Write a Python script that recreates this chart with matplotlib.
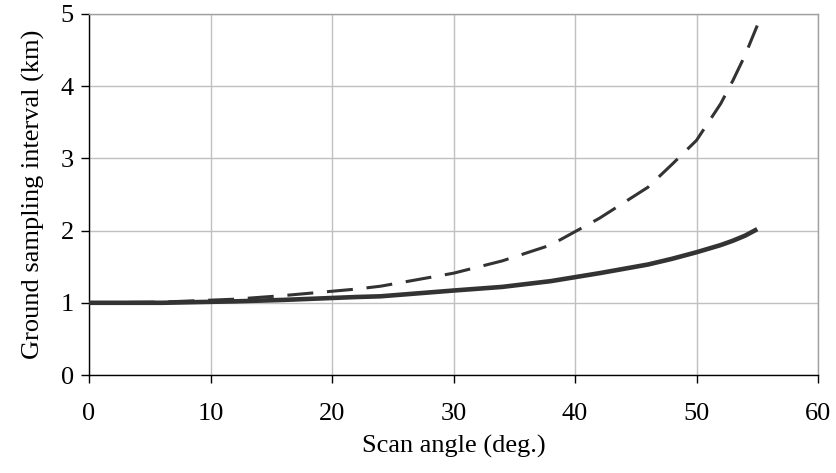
import numpy as np
import matplotlib.pyplot as plt

# du lieu doc tu hinh
scan_deg = [0, 6, 12, 16, 22, 24, 30, 34, 38, 42, 46, 48, 50, 52, 53, 54, 55]
gsi_solid = [1.00, 1.00, 1.02, 1.04, 1.08, 1.09, 1.17, 1.22, 1.30, 1.41, 1.53, 1.61, 1.70, 1.80, 1.86, 1.93, 2.02]
gsi_dash = [1.00, 1.01, 1.05, 1.10, 1.19, 1.23, 1.41, 1.58, 1.80, 2.17, 2.60, 2.92, 3.25, 3.76, 4.08, 4.43, 4.84]

plt.rcParams['font.family'] = ['Liberation Serif', 'DejaVu Serif']

fig = plt.figure(figsize=(8.36, 4.73), dpi=100)
ax = fig.add_axes([89 / 836, 1 - 375 / 473, (818 - 89) / 836, (375 - 14) / 473])

ax.plot(scan_deg, gsi_dash, color='#333333', lw=2.2, dashes=(8.5, 4.5), zorder=3)
ax.plot(scan_deg, gsi_solid, color='#333333', lw=3.3, solid_capstyle='butt', zorder=4)

ax.set_xlim(0, 60)
ax.set_ylim(0, 5)
ax.set_xticks(np.arange(0, 61, 10))
ax.set_yticks(np.arange(0, 6, 1))
ax.grid(True, color='#c0c0c0', lw=1.0)
ax.set_axisbelow(True)

for s in ['top', 'right']:
    ax.spines[s].set_color('#a0a0a0')
    ax.spines[s].set_linewidth(1.0)
for s in ['left', 'bottom']:
    ax.spines[s].set_color('black')
    ax.spines[s].set_linewidth(1.0)

ax.tick_params(direction='out', length=6, width=1.0, labelsize=19)
ax.tick_params(axis='x', pad=14)
ax.tick_params(axis='y', pad=5)

ax.set_xlabel('Scan angle (deg.)', fontsize=19, labelpad=7)
ax.set_ylabel('Ground sampling interval (km)', fontsize=19, labelpad=11)

fig.savefig('out.png', dpi=100)
